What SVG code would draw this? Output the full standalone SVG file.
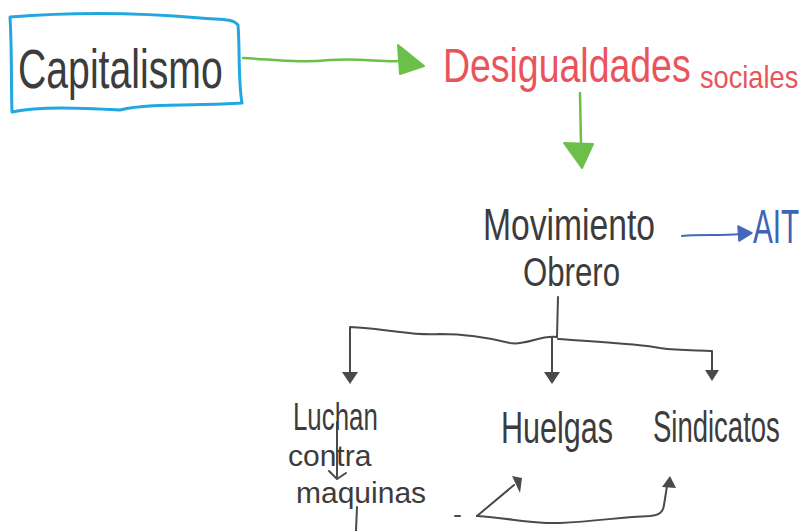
<svg xmlns="http://www.w3.org/2000/svg" width="808" height="531" viewBox="0 0 808 531">
<defs>
<style>
.hw{font-family:"Liberation Sans","DejaVu Sans",sans-serif;font-weight:normal}
.dark{fill:#3c3c3c}
.red{fill:#e9545c}
.blue{fill:#3d64b5}
.ln{fill:none;stroke-linecap:round;stroke-linejoin:round}
.g{stroke:#6cc04a;stroke-width:2.5}
.k{stroke:#4a4a4a;stroke-width:2}
.b{stroke:#4468bb;stroke-width:2.2}
.hk{fill:#4a4a4a}
</style>
</defs>
<rect width="808" height="531" fill="#ffffff"/>

<g id="connectors">
<!-- Capitalismo -> Desigualdades -->
<path class="ln g" d="M243,58 C280,60 300,63 330,60 C360,58 380,62 400,61"/>
<path d="M398,45 L424,66 L400,74 Z" fill="#6cc04a" stroke="#6cc04a" stroke-width="2" stroke-linejoin="round"/>
<!-- Desigualdades -> Movimiento -->
<path class="ln g" d="M580,93 L581,145"/>
<path d="M564,143 L593,144 L582,168 Z" fill="#6cc04a" stroke="#6cc04a" stroke-width="2" stroke-linejoin="round"/>
<!-- Movimiento -> AIT -->
<path class="ln b" d="M682,236 C700,234 720,236 740,234"/>
<path d="M738,226 L752,233 L739,241 Z" fill="#4468bb" stroke="#4468bb" stroke-width="1.5" stroke-linejoin="round"/>
<!-- tree -->
<path class="ln k" d="M558,297 L557,337"/>
<path class="ln k" d="M557,337 C540,335 525,346 510,343 C490,338 470,334 440,334 C410,336 400,330 350,327 L350,378"/>
<path class="ln k" d="M552,338 L552,378"/>
<path class="ln k" d="M558,339 C600,342 640,344 660,348 C680,351 700,350 712,351 L712,376"/>
<path class="hk" d="M342,372 L358,372 L350,384 Z"/>
<path class="hk" d="M544,372 L560,372 L552,384 Z"/>
<path class="hk" d="M705,370 L719,370 L712,381 Z"/>
<!-- small arrow in Luchan contra maquinas -->
<path class="ln k" d="M337,422 L337,477"/>
<path class="ln k" d="M329,471 L337,479 L346,473"/>
<path class="ln k" d="M357,507 L356,531"/>
<!-- bottom arrows -->
<path class="ln k" d="M455,516 L460,516"/>
<path class="ln k" d="M477,516 L514,485"/>
<path class="hk" d="M512,476 L522,478 L520,493 Z"/>
<path class="ln k" d="M477,516 C510,518 530,524 560,523 C600,521 620,517 650,516 C660,515 663,512 664,505 L667,486"/>
<path class="hk" d="M662,487 L670,476 L676,488 Z"/>
</g>

<g id="capitalismo">
<path d="M10,17 C60,13 120,11 200,18 C220,20 232,18 238,25 C240,50 238,80 242,103 C200,106 150,103 120,110 C80,108 40,106 12,112 C11,80 12,50 10,17 Z" fill="#ffffff" stroke="#22a7e0" stroke-width="3" stroke-linejoin="round"/>
<text class="hw dark" transform="translate(18,88) scale(0.70,1)" font-size="56">Capitalismo</text>
</g>

<g id="desigualdades">
<text class="hw red" transform="translate(443,82) scale(0.78,1)" font-size="48">Desigualdades</text>
<text class="hw red" transform="translate(700,88) scale(0.85,1)" font-size="32">sociales</text>
</g>

<g id="movimiento">
<text class="hw dark" transform="translate(483,240) scale(0.765,1)" font-size="44">Movimiento</text>
<text class="hw dark" transform="translate(523,286) scale(0.78,1)" font-size="40">Obrero</text>
</g>

<g id="ait">
<text class="hw blue" transform="translate(753,243) scale(0.62,1)" font-size="48">AIT</text>
</g>

<g id="luchan">
<text class="hw dark" transform="translate(293,430) scale(0.68,1)" font-size="38">Luchan</text>
<text class="hw dark" x="288" y="466" font-size="30">contra</text>
<text class="hw dark" x="296" y="503" font-size="30">maquinas</text>
</g>

<g id="huelgas">
<text class="hw dark" transform="translate(501,443) scale(0.695,1)" font-size="44">Huelgas</text>
</g>

<g id="sindicatos">
<text class="hw dark" transform="translate(653,442) scale(0.625,1)" font-size="44">Sindicatos</text>
</g>
</svg>
